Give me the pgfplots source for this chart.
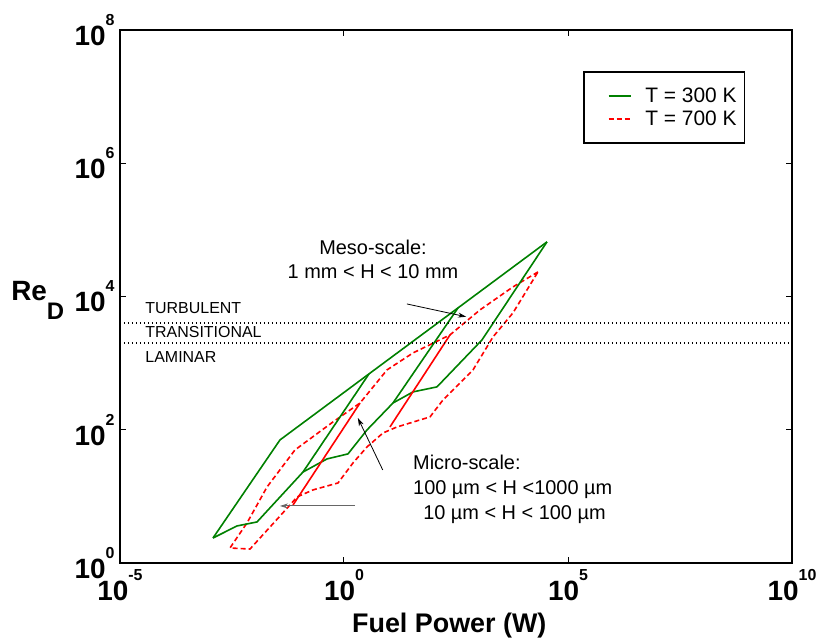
\documentclass[border=0pt]{standalone}
\usepackage{fontspec}
\setmainfont{Liberation Sans}
\usepackage{pgfplots}
\pgfplotsset{compat=1.18}
\usetikzlibrary{arrows.meta}

\definecolor{mgreen}{rgb}{0,0.5,0}
\newcommand{\tp}[1]{10\raisebox{20bp}{\fontsize{16}{16}\selectfont #1}}

\begin{document}
\begin{tikzpicture}
\begin{axis}[
  name=ax, at={(0,0)}, anchor=south west,
  scale only axis, width=672bp, height=533bp,
  xmode=log, ymode=log,
  xmin=1e-5, xmax=1e10, ymin=1, ymax=1e8,
  xtick={1e-5,1,1e5,1e10},
  xticklabels={\tp{-5},\tp{0},\tp{5},\tp{10}},
  ytick={1,1e2,1e4,1e6,1e8},
  yticklabels={\tp{0},\tp{2},\tp{4},\tp{6},\tp{8}},
  minor xtick={}, minor ytick={},
  tick label style={font=\fontsize{28}{28}\selectfont\bfseries},
  xticklabel style={yshift=-3bp},
  yticklabel style={xshift=-2bp},
  tick align=inside, major tick length=6bp,
  tick style={black, line width=1bp},
  axis line style={line width=1.5bp},
  clip=false,
  xlabel={\textbf{Fuel Power (W)}},
  xlabel style={font=\fontsize{27}{27}\selectfont, at={(axis description cs:0.49,0)}, anchor=base, yshift=-69bp},
  legend style={at={(0.689,0.923)}, anchor=north west, draw=black, line width=1.5bp,
    font=\fontsize{21}{24}\selectfont, inner xsep=6bp, inner ysep=14bp,
    column sep=12bp, row sep=3bp, cells={anchor=west}},
  legend image code/.code={\path (0bp,0bp); \draw[#1] (18bp,0bp) -- (40bp,0bp);},
]
% green, T = 300 K
\addplot[mgreen, line width=1.6bp] coordinates {
  (1.19e-3,2.37) (0.0372,70.3) (3.61,689) (351,6745) (33960,66070)};
\addlegendentry{T = 300 K}
% red, T = 700 K
\addplot[red, line width=1.6bp, dash pattern=on 5bp off 3bp] coordinates {
  (21380,23390) (5916,13930) (1086,6295) (232,2649) (34.7,1422) (9.12,791)
  (2.28,252) (0.568,131) (0.0805,49.8) (0.0191,13.8) (6.84e-3,3.99) (2.85e-3,1.68)
  (7.98e-3,1.62) (0.0624,7.43) (0.0893,9.79) (0.203,12.5) (0.735,15.9) (1.59,31.8)
  (3.26,55.2) (7.43,89.5) (15.2,110) (83.2,156) (162,280) (757,791) (2118,2472)
  (5916,5675) (21380,23390)};
\addlegendentry{T = 700 K}

\addplot[mgreen, line width=1.6bp, forget plot] coordinates {
  (1.19e-3,2.37) (4.09e-3,3.60) (0.01143,4.13) (0.1216,23.2) (0.418,36.5)
  (1.227,43.4) (3.26,99.3) (12.4,252) (34.7,370) (119,440) (1202,2228) (33960,66070)};
\addplot[mgreen, line width=1.6bp, forget plot] coordinates {(3.61,689) (0.1216,23.2)};
\addplot[mgreen, line width=1.6bp, forget plot] coordinates {(351,6745) (12.4,252)};
\addplot[red, line width=1.6bp, forget plot] coordinates {(0.0728,7.43) (2.28,252)};
\addplot[red, line width=1.6bp, forget plot] coordinates {(10.6,110) (232,2649)};

% flow regime limits
\addplot[black, line width=1.3bp, dash pattern=on 1.3bp off 2.7bp, forget plot]
  coordinates {(1e-5,4000) (1e10,4000)};
\addplot[black, line width=1.3bp, dash pattern=on 1.3bp off 2.7bp, forget plot]
  coordinates {(1e-5,2000) (1e10,2000)};

\begin{scope}[font=\fontsize{16}{16}\selectfont]
\node[anchor=base west] at (rel axis cs:0.0327,0.469) {TURBULENT};
\node[anchor=base west] at (rel axis cs:0.0327,0.424) {TRANSITIONAL};
\node[anchor=base west] at (rel axis cs:0.0327,0.377) {LAMINAR};
\end{scope}

\begin{scope}[font=\fontsize{20}{20}\selectfont]
\node[anchor=base] at (rel axis cs:0.3765,0.578) {Meso-scale:};
\node[anchor=base] at (rel axis cs:0.3765,0.533) {1 mm < H < 10 mm};
\node[anchor=base west, inner sep=0pt] at (rel axis cs:0.436,0.1745) {Micro-scale:};
\node[anchor=base west, inner sep=0pt] at (rel axis cs:0.436,0.1276) {100 µm < H <1000 µm};
\node[anchor=base west, inner sep=0pt] at (rel axis cs:0.451,0.0807) {10 µm < H < 100 µm};
\end{scope}

\draw[black, line width=0.8bp, -{Stealth[length=8bp,width=5bp]}]
  (rel axis cs:0.427,0.486) -- (rel axis cs:0.515,0.462);
\draw[black, line width=0.8bp, -{Stealth[length=8bp,width=5bp]}]
  (rel axis cs:0.391,0.1745) -- (rel axis cs:0.354,0.272);
\draw[black!60, line width=1bp, -{Stealth[length=8bp,width=5bp]}]
  (rel axis cs:0.350,0.107) -- (rel axis cs:0.238,0.107);

\node[anchor=base west, inner sep=0pt, font=\fontsize{28}{28}\selectfont\bfseries]
  at (rel axis cs:-0.162,0.493) {Re\raisebox{-19bp}{\fontsize{24}{24}\selectfont D}};
\end{axis}
\pgfresetboundingbox
\path[use as bounding box] ([shift={(-120bp,-76bp)}]ax.south west) rectangle ([shift={(29bp,30bp)}]ax.north east);
\end{tikzpicture}
\end{document}
